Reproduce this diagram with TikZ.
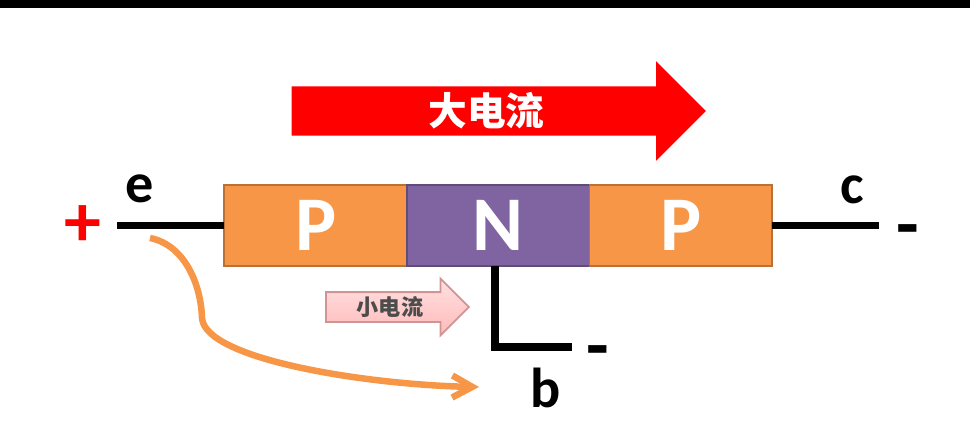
\documentclass[tikz,border=0pt]{standalone}
\usepackage{fontspec}
\setmainfont{Carlito}
\newfontfamily\cjk{Noto Sans CJK SC}
\usetikzlibrary{arrows.meta,positioning,shapes.arrows}
\definecolor{boxorange}{HTML}{F79646}
\definecolor{boxpurple}{HTML}{8064A2}
\tikzset{
	region/.style={draw=#1!75!black,fill=#1,line width=0.5pt,outer sep=0pt,minimum width=1.825cm,minimum height=0.81cm,inner sep=0pt,text=white,font=\fontsize{22}{24}\selectfont\bfseries},
	lead/.style={line width=0.075cm},
	pin/.style={inner sep=0pt,font=\fontsize{16}{18}\selectfont\bfseries},
	minus/.style={inner sep=0pt,font=\fontsize{21}{24}\selectfont\bfseries},
	bigarrow/.style={single arrow,fill=red,draw=none,inner sep=0pt,text=white,minimum height=4.14cm,single arrow head extend=0.25cm,single arrow head indent=0pt,text height=0.387cm,text depth=0.093cm,font=\cjk\fontsize{11}{12}\selectfont\bfseries},
	smallarrow/.style={single arrow,draw=red!40!gray!60,top color=red!12,bottom color=red!27,line width=0.5pt,inner sep=0pt,text=black!70,minimum height=1.43cm,single arrow head extend=0.135cm,single arrow head indent=0pt,text height=0.224cm,text depth=0.056cm,font=\cjk\fontsize{6.3}{7}\selectfont\bfseries}
}
\begin{document}
\begin{tikzpicture}[x=0.01cm,y=-0.01cm]
	\useasboundingbox (0,0) rectangle (970,436);
	\fill[black] (0,0) rectangle (970,8);
	
	\node[bigarrow,anchor=tail] (big) at (291,111) {大电流};
	\node[smallarrow,anchor=tail] (small) at (325,307) {小电流};
	
	\node[region=boxorange] (p1) at (315.5,225.5) {\hspace{0.02cm}P};
	\node[region=boxpurple,right=0pt of p1] (n) {N};
	\node[region=boxorange,right=0pt of n] (p2) {P};
	
	\coordinate (eend) at (117,225.5);
	\coordinate (cend) at (879,225.5);
	\coordinate (btop) at (495,266);
	\coordinate (bcorner) at (495,347);
	\coordinate (bend) at (572,347);
	\draw[lead] (eend) -- (p1.west);
	\draw[lead] (p2.east) -- (cend);
	\draw[lead,line join=miter] (btop) -- (bcorner) -- (bend);
	
	\node[pin] (e) at (140,189) {e};
	\node[pin] (c) at (852,190) {c};
	\node[pin] (b) at (546,388) {b};
	\node[inner sep=0pt,text=red,font=\fontsize{21}{24}\selectfont\bfseries] (plus) at (83,226) {+};
	\node[minus] (cminus) at (908,237) {-};
	\node[minus] (bminus) at (598,358) {-};
	
	\coordinate (cstart) at (150,238);
	\coordinate (cbend) at (202,318);
	\coordinate (ctip) at (479,387);
	\draw[boxorange,line width=0.065cm,-{Straight Barb[length=0.2cm,width=0.22cm,line width=0.065cm]}] (cstart) .. controls (185,245) and (201,285) .. (cbend) .. controls (205,360) and (370,385) .. (ctip);
\end{tikzpicture}
\end{document}
